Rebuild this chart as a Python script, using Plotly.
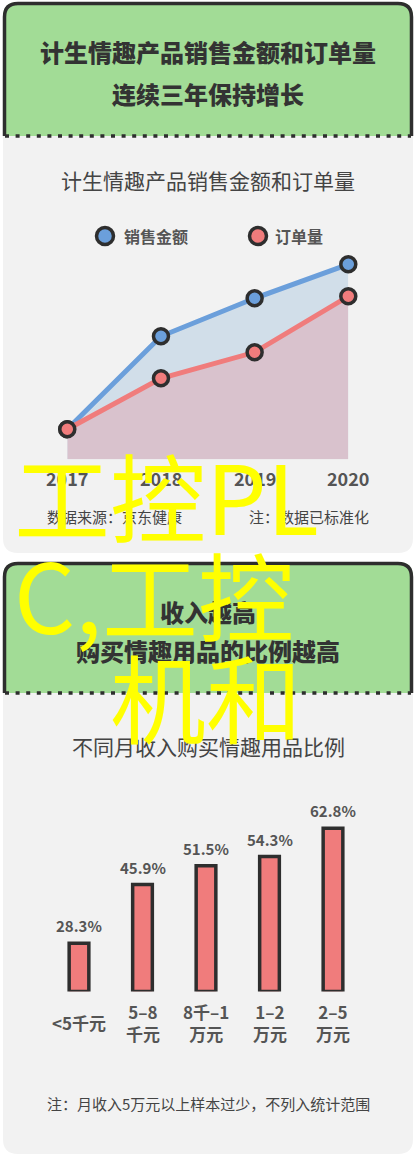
import plotly.graph_objects as go

W, H = 416, 1161
FONT = "Noto Sans CJK SC"

# ---- data ----
years = [2017, 2018, 2019, 2020]
sales = [30, 123, 161, 195]      # 销售金额 (standardised)
orders = [30, 81, 107, 163]      # 订单量 (standardised)

income_groups = ["<5千元", "5–8<br>千元", "8千–1<br>万元", "1–2<br>万元", "2–5<br>万元"]
share = [28.3, 45.9, 51.5, 54.3, 62.8]
BAR_BASE = 13.8

GREEN = "#a2dc96"
CARD = "#f2f2f2"
DARK = "#2e2e2e"
BLUE = "#6b9fdb"
RED = "#f07c7c"


def px(x):
    return x / W


def py(y):
    return 1 - y / H


def path(points):
    # points in pixel coords -> svg path in paper coords
    out = ""
    for cmd, *pts in points:
        out += cmd
        out += " ".join(f"{px(pts[i]):.5f},{py(pts[i + 1]):.5f}" for i in range(0, len(pts), 2))
        out += " "
    return out


def card(top, mid, bottom, left=3, right=413, r=15):
    shapes = []
    # green header, rounded top corners
    head = path([("M", left, mid), ("L", left, top + r), ("Q", left, top, left + r, top),
                 ("L", right - r, top), ("Q", right, top, right, top + r), ("L", right, mid), ("Z",)])
    shapes.append(dict(type="path", path=head, xref="paper", yref="paper",
                       fillcolor=GREEN, line=dict(width=0), layer="below"))
    # grey body, rounded bottom corners
    body = path([("M", left, mid), ("L", right, mid), ("L", right, bottom - r),
                 ("Q", right, bottom, right - r, bottom), ("L", left + r, bottom),
                 ("Q", left, bottom, left, bottom - r), ("Z",)])
    shapes.append(dict(type="path", path=body, xref="paper", yref="paper",
                       fillcolor=CARD, line=dict(width=0), layer="below"))
    # dark border round the header (open at the bottom)
    rim = path([("M", left + 1.5, mid), ("L", left + 1.5, top + r), ("Q", left + 1.5, top + 1.5, left + r, top + 1.5),
                ("L", right - r, top + 1.5), ("Q", right - 1.5, top + 1.5, right - 1.5, top + r),
                ("L", right - 1.5, mid)])
    shapes.append(dict(type="path", path=rim, xref="paper", yref="paper",
                       line=dict(color=DARK, width=3.5), layer="below"))
    # dotted divider
    shapes.append(dict(type="line", xref="paper", yref="paper", x0=px(left + 2), x1=px(right - 2),
                       y0=py(mid), y1=py(mid), line=dict(color=DARK, width=3.5, dash="4px,6.6px"),
                       layer="below"))
    return shapes


def text(s, x, y, size, color="#444", weight=400, xanchor="center", yanchor="middle", **kw):
    return dict(text=s, x=px(x), y=py(y), xref="paper", yref="paper", showarrow=False,
                xanchor=xanchor, yanchor=yanchor,
                font=dict(family=FONT, size=size, color=color, weight=weight), **kw)


fig = go.Figure()

# line chart: sales first so the orders markers sit on top
fig.add_trace(go.Scatter(x=years, y=sales, mode="lines+markers", fill="tozeroy",
                         fillcolor="#d1dee9", line=dict(color=BLUE, width=5),
                         marker=dict(size=15, color=BLUE, line=dict(color=DARK, width=3.5)),
                         cliponaxis=False, hoverinfo="skip", xaxis="x", yaxis="y"))
fig.add_trace(go.Scatter(x=years, y=orders, mode="lines+markers", fill="tozeroy",
                         fillcolor="#d9c2cd", line=dict(color=RED, width=5),
                         marker=dict(size=15, color=RED, line=dict(color=DARK, width=3.5)),
                         cliponaxis=False, hoverinfo="skip", xaxis="x", yaxis="y"))

# bar chart
fig.add_trace(go.Bar(x=list(range(len(income_groups))), y=[v - BAR_BASE for v in share], base=BAR_BASE,
                     width=0.31, marker=dict(color=RED, line=dict(color=DARK, width=3.5)),
                     hoverinfo="skip", xaxis="x2", yaxis="y2"))

shapes = card(2, 136, 553) + card(562, 693, 1154)

# legend markers
for cx, col in [(105, BLUE), (258, RED)]:
    shapes.append(dict(type="circle", xref="paper", yref="paper",
                       x0=px(cx - 8.5), x1=px(cx + 8.5), y0=py(236 - 8.5), y1=py(236 + 8.5),
                       fillcolor=col, line=dict(color=DARK, width=3.5)))

ann = [
    text("计生情趣产品销售金额和订单量", 208, 52, 24, "#333", 900),
    text("连续三年保持增长", 208, 93, 24, "#333", 900),
    text("计生情趣产品销售金额和订单量", 208, 180, 21, "#444"),
    text("销售金额", 122, 236, 16, "#555", 700, xanchor="left"),
    text("订单量", 273, 236, 16, "#555", 700, xanchor="left"),
    text("数据来源：京东健康", 45, 516, 15, "#444", xanchor="left"),
    text("注：数据已标准化", 247, 516, 15, "#444", xanchor="left"),
    text("收入越高", 208, 611, 24, "#333", 900),
    text("购买情趣用品的比例越高", 208, 650, 24, "#333", 900),
    text("不同月收入购买情趣用品比例", 208, 746, 21, "#444"),
    text("注：月收入5万元以上样本过少，不列入统计范围", 208, 1103, 15, "#444"),
]

for yr in years:
    ann.append(dict(text=str(yr), x=yr, y=py(478), xref="x", yref="paper", showarrow=False,
                    font=dict(family=FONT, size=18, color="#555", weight=700)))

for i, (g, v) in enumerate(zip(income_groups, share)):
    ann.append(dict(text=f"{v}%", x=i, y=v, xref="x2", yref="y2", showarrow=False,
                    yanchor="bottom", yshift=5,
                    font=dict(family=FONT, size=15, color="#555", weight=700)))
    ann.append(dict(text=g, x=i, y=py(1022), xref="x2", yref="paper", showarrow=False,
                    yanchor="middle", font=dict(family=FONT, size=17, color="#555", weight=700)))

# watermark
ann += [
    text("工控PL", 12, 494, 96, "#ffff00", xanchor="left"),
    text("C,工控", 12, 592, 96, "#ffff00", xanchor="left"),
    text("机和", 108, 694, 96, "#ffff00", xanchor="left"),
]

fig.update_layout(
    width=W, height=H, margin=dict(l=0, r=0, t=0, b=0),
    paper_bgcolor="white", plot_bgcolor="rgba(0,0,0,0)",
    showlegend=False, shapes=shapes, annotations=ann,
    xaxis=dict(domain=[px(67.3), px(348.3)], range=[2017, 2020], visible=False, fixedrange=True),
    yaxis=dict(domain=[py(459.3), py(250)], range=[0, 209.3], visible=False, fixedrange=True),
    xaxis2=dict(domain=[px(47.25), px(364.75)], range=[-0.5, 4.5], visible=False, fixedrange=True),
    yaxis2=dict(domain=[py(991.5), py(800)], range=[BAR_BASE, BAR_BASE + 191.5 / 3.333],
                visible=False, fixedrange=True),
)

fig.write_html("out.html", config={"displayModeBar": False},
               post_script="document.body.style.margin='0';document.body.style.overflow='hidden';")
